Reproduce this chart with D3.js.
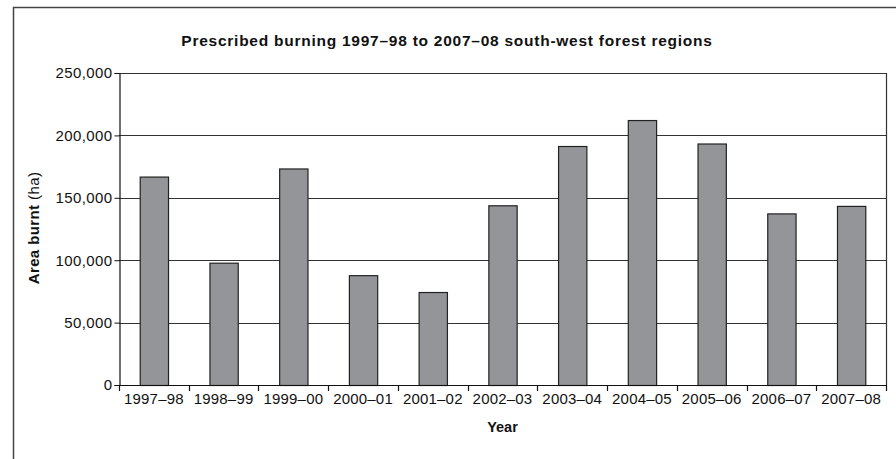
<!DOCTYPE html>
<html><head><meta charset="utf-8">
<script src="https://cdn.jsdelivr.net/npm/d3@7"></script>
<style>body{margin:0;background:#fff}svg{display:block;font-family:"Liberation Sans",Arial,sans-serif}</style>
</head><body>
<svg id="c" width="896" height="459"></svg>
<script>
const categories = ["1997–98","1998–99","1999–00","2000–01","2001–02","2002–03","2003–04","2004–05","2005–06","2006–07","2007–08"];
const areaBurnt = [167000, 98000, 173500, 88000, 74500, 144000, 191500, 212300, 193500, 137500, 143500];
const yTicks = [0, 50000, 100000, 150000, 200000, 250000];
const title = "Prescribed burning 1997–98 to 2007–08 south-west forest regions";

const svg = d3.select("#c");
const m = {l:119, t:73, r:886, b:385};
const x = d3.scaleBand().domain(categories).range([m.l, m.r]).paddingInner(0.594).paddingOuter(0.297);
const y = d3.scaleLinear().domain([0, 250000]).range([m.b, m.t]);
const FONT = "Liberation Sans, Arial, sans-serif";

// outer frame
svg.append("path").attr("d","M13.5,459 L13.5,7.5 L896,7.5").attr("fill","none").attr("stroke","#444").attr("stroke-width",1.5);

// gridlines
svg.append("g").selectAll("line").data(yTicks.filter(d=>d>0)).join("line")
  .attr("x1",m.l).attr("x2",m.r).attr("y1",d=>Math.round(y(d))+0.5).attr("y2",d=>Math.round(y(d))+0.5)
  .attr("stroke","#333").attr("stroke-width",1.2);
// right border
svg.append("line").attr("x1",m.r+0.5).attr("x2",m.r+0.5).attr("y1",m.t).attr("y2",m.b).attr("stroke","#333").attr("stroke-width",1.2);

// bars
svg.append("g").selectAll("rect").data(areaBurnt).join("rect")
  .attr("x",(d,i)=>x(categories[i])+0.5).attr("width",x.bandwidth())
  .attr("y",d=>y(d)+0.5).attr("height",d=>m.b-y(d))
  .attr("fill","#939598").attr("stroke","#222").attr("stroke-width",1.2);

// y axis
const ya = svg.append("g").attr("transform",`translate(${m.l+0.5},0)`)
  .call(d3.axisLeft(y).tickValues(yTicks).tickSize(5).tickPadding(2).tickFormat(d3.format(",")));
ya.select(".domain").attr("stroke","#111").attr("stroke-width",1.2);
ya.selectAll(".tick line").attr("stroke","#111");
ya.selectAll("text").attr("font-size",15).attr("letter-spacing",0.4).attr("fill","#111").attr("font-family",FONT);

// x axis
const step = x.step();
const xa = svg.append("g").attr("transform",`translate(0,${m.b+0.5})`)
  .call(d3.axisBottom(x).tickSize(0).tickPadding(8));
xa.select(".domain").attr("d",`M${m.l},0H${m.r+1}`).attr("stroke","#111").attr("stroke-width",1.2);
xa.selectAll("text").attr("font-size",15).attr("letter-spacing",0.2).attr("fill","#111").attr("font-family",FONT);
// boundary ticks
const bounds = d3.range(categories.length+1).map(i=>m.l + i*step);
svg.append("g").selectAll("line").data(bounds).join("line")
  .attr("x1",d=>Math.round(d)+0.5).attr("x2",d=>Math.round(d)+0.5).attr("y1",m.b).attr("y2",m.b+6)
  .attr("stroke","#111").attr("stroke-width",1.2);

// title
svg.append("text").attr("x",447).attr("y",46).attr("text-anchor","middle")
  .attr("font-size",15.5).attr("letter-spacing",0.75).attr("font-weight","bold").attr("fill","#111").text(title);

// axis titles
svg.append("text").attr("x",(m.l+m.r)/2).attr("y",432).attr("text-anchor","middle")
  .attr("font-size",14.5).attr("font-weight","bold").attr("fill","#111").text("Year");
const yl = svg.append("text").attr("transform","translate(39,228) rotate(-90)").attr("text-anchor","middle")
  .attr("font-size",15).attr("letter-spacing",0.4).attr("fill","#111");
yl.append("tspan").attr("font-weight","bold").text("Area burnt ");
yl.append("tspan").text("(ha)");
</script>
</body></html>
